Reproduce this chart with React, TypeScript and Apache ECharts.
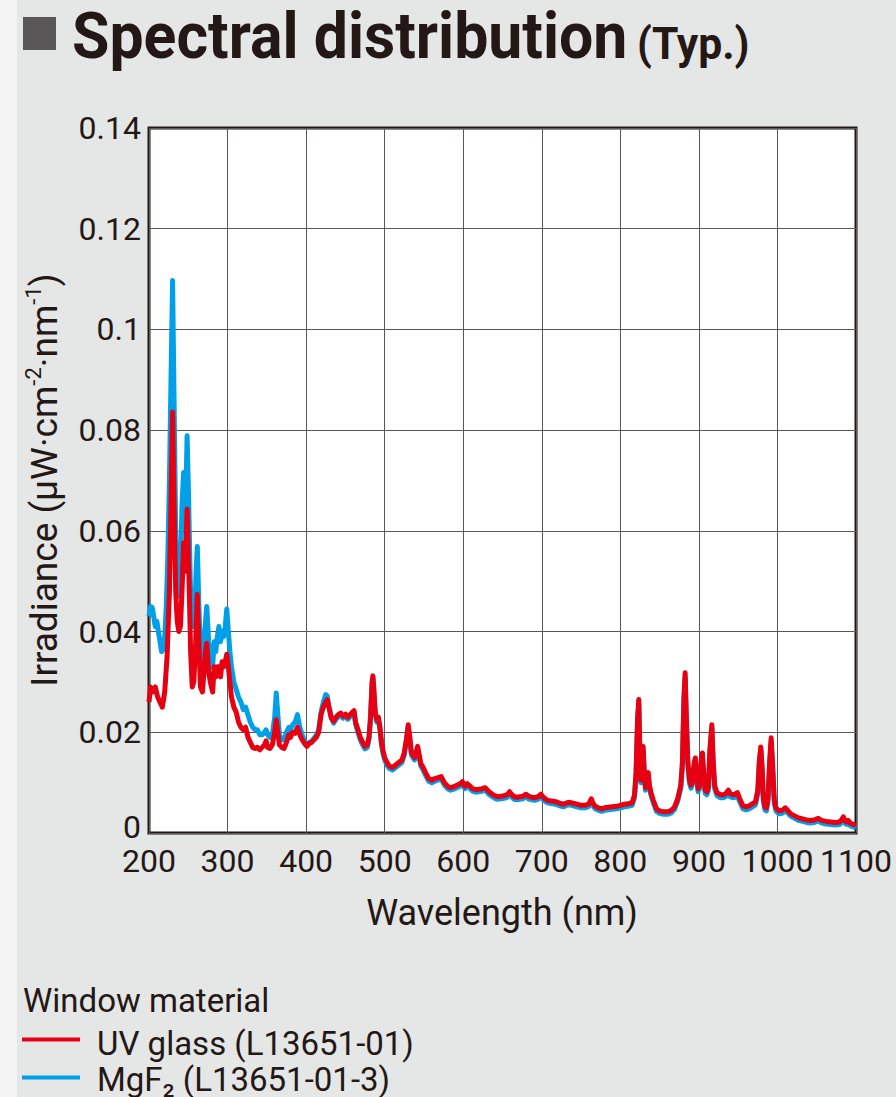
import React, { useEffect, useRef } from "react";
import * as echarts from "echarts";

// ---- Data (wavelength nm, irradiance µW·cm-2·nm-1) ----
const uvGlassUV: [number, number][] = [
  [200, 0.026], [202, 0.029], [205, 0.028], [208, 0.029], [211, 0.027], [214, 0.026], [217, 0.025],
  [220, 0.028], [223, 0.035], [226, 0.048], [228, 0.066], [230, 0.0836], [232, 0.064], [234, 0.048],
  [236, 0.042], [238, 0.040], [240, 0.041], [242, 0.048], [244, 0.0576], [246, 0.052], [248.5, 0.0643],
  [251, 0.050], [253, 0.036], [255, 0.029], [257, 0.030], [259, 0.036], [261.5, 0.0474], [263.5, 0.038],
  [265.5, 0.029], [268, 0.028], [270, 0.032], [272, 0.036], [273.5, 0.0377], [276, 0.032], [278, 0.030],
  [281, 0.028], [283, 0.033], [285, 0.031], [287, 0.033], [289, 0.033], [291, 0.031], [293, 0.034],
  [295, 0.033], [297, 0.034], [299, 0.0355], [301, 0.033], [303, 0.030], [305, 0.027], [308, 0.025],
  [311, 0.024], [314, 0.022], [317, 0.021], [320, 0.0205], [323, 0.021], [326, 0.019], [329, 0.018],
  [332, 0.017], [335, 0.0168], [338, 0.017], [341, 0.0165], [344, 0.017], [347, 0.0175], [349, 0.0183],
  [351, 0.017], [354, 0.0168], [357, 0.0175], [360, 0.020], [362, 0.0225], [364, 0.020], [366, 0.0175],
  [369, 0.017], [372, 0.0168], [375, 0.018], [378, 0.0195], [380, 0.019], [383, 0.020], [386, 0.0198],
  [389, 0.021], [392, 0.0195], [395, 0.0185], [398, 0.0178], [401, 0.0172], [404, 0.0178], [407, 0.018],
  [410, 0.0185], [413, 0.019], [416, 0.020], [419, 0.0235], [422, 0.025], [425, 0.026], [427, 0.0265],
  [429, 0.025], [432, 0.0228],
];
const uvGlassVis: [number, number][] = [
  [435, 0.0222], [438, 0.023], [441, 0.0235], [444, 0.0238], [447, 0.0232], [450, 0.0236], [453, 0.023],
  [456, 0.0235], [459, 0.024], [461, 0.0243], [463, 0.022], [466, 0.0205], [469, 0.019], [472, 0.018],
  [475, 0.0172], [478, 0.0175], [480, 0.019], [482, 0.023], [484, 0.030], [485, 0.0312], [486, 0.029],
  [488, 0.024], [490, 0.0225], [492, 0.023], [494, 0.021], [496, 0.018], [498, 0.0162], [500, 0.015],
  [503, 0.014], [506, 0.0133], [510, 0.013], [514, 0.0135], [518, 0.014], [522, 0.0145], [525, 0.016],
  [528, 0.019], [530, 0.0215], [532, 0.019], [534, 0.016], [536, 0.0155], [538, 0.015], [540, 0.016],
  [542, 0.0172], [544, 0.0155], [546, 0.0138], [549, 0.013], [552, 0.012], [556, 0.0108], [560, 0.0105],
  [564, 0.0108], [568, 0.011], [572, 0.0112], [576, 0.010], [580, 0.0093], [584, 0.009], [588, 0.0092],
  [592, 0.0095], [596, 0.0098], [599, 0.0102], [602, 0.0093], [605, 0.0098], [608, 0.0094], [612, 0.0088],
  [616, 0.0086], [620, 0.0087], [624, 0.0088], [628, 0.009], [632, 0.0083], [636, 0.0078], [640, 0.0074],
  [644, 0.0072], [648, 0.0073], [652, 0.0074], [656, 0.0076], [659, 0.0082], [662, 0.0076], [665, 0.0072],
  [668, 0.0071], [672, 0.0072], [676, 0.0073], [680, 0.0077], [683, 0.0073], [687, 0.0071], [691, 0.007],
  [695, 0.0072], [699, 0.0077], [702, 0.0071], [706, 0.0066], [710, 0.0064], [715, 0.0063], [720, 0.0061],
  [725, 0.0058], [728, 0.0057], [732, 0.006], [736, 0.0061], [740, 0.0059], [745, 0.0057], [750, 0.0055],
  [755, 0.0055], [760, 0.0058], [763, 0.0068], [765, 0.006], [768, 0.0053], [772, 0.005], [776, 0.0048],
  [780, 0.005], [785, 0.0051], [790, 0.0052], [795, 0.0053],
];
const uvGlassNIR: [number, number][] = [
  [800, 0.0055], [805, 0.0057], [810, 0.0058], [815, 0.006], [818, 0.0075], [820, 0.012], [822, 0.023],
  [823.5, 0.0265], [825, 0.015], [826, 0.0105], [828, 0.016], [829, 0.0172], [830.5, 0.012], [832, 0.009],
  [834, 0.011], [835.5, 0.012], [837, 0.0095], [839, 0.008], [842, 0.0065], [846, 0.0048], [850, 0.0044],
  [855, 0.0042], [860, 0.0042], [865, 0.0045], [869, 0.0052], [873, 0.0068], [877, 0.0095], [879, 0.014],
  [881, 0.027], [882.5, 0.0318], [884, 0.023], [886, 0.014], [888, 0.0105], [890, 0.0095], [892, 0.0105],
  [894, 0.014], [895.5, 0.0149], [897, 0.0115], [899, 0.0088], [901, 0.0095], [903, 0.0145], [904.5, 0.0159],
  [906, 0.012], [908, 0.0085], [910, 0.0082], [912, 0.009], [914, 0.0165], [916.5, 0.0215], [918, 0.015],
  [920, 0.0095], [923, 0.008], [927, 0.0076], [931, 0.0076], [934, 0.0078], [937.5, 0.0085], [940, 0.0078],
  [943, 0.0076], [946, 0.0077], [949, 0.008], [952, 0.0068], [956, 0.0054], [960, 0.0052], [964, 0.0054],
  [968, 0.0058], [972, 0.0062], [975, 0.0085], [977, 0.0145], [978.8, 0.0171], [980.5, 0.013], [982, 0.007],
  [984, 0.0052], [986, 0.005], [988, 0.007], [990, 0.014], [992, 0.0189], [994, 0.013], [996, 0.0065],
  [998, 0.005], [1002, 0.0044], [1006, 0.0045], [1010, 0.005], [1013, 0.0045], [1017, 0.0038], [1022, 0.0034],
  [1027, 0.003], [1032, 0.0028], [1037, 0.0026], [1042, 0.0025], [1047, 0.0026], [1052, 0.0029], [1056, 0.0025],
  [1062, 0.0023], [1068, 0.0022], [1074, 0.0021], [1079, 0.0022], [1082, 0.0027], [1084, 0.0032], [1086, 0.0024],
  [1088, 0.0022], [1090, 0.0025], [1093, 0.0019], [1097, 0.0017], [1100, 0.0015],
];

const mgf2UV: [number, number][] = [
  [200, 0.043], [202, 0.045], [204, 0.0448], [206, 0.043], [208, 0.041], [210, 0.042], [212, 0.040],
  [214, 0.038], [216, 0.036], [218, 0.0365], [220, 0.039], [222, 0.045], [224, 0.055], [226, 0.070],
  [228, 0.090], [230, 0.1097], [232, 0.085], [234, 0.060], [236, 0.050], [238, 0.047], [240, 0.052],
  [242, 0.065], [244, 0.0716], [246, 0.060], [248.5, 0.0789], [250.5, 0.066], [252.5, 0.050], [254.5, 0.043],
  [256.5, 0.041], [258.5, 0.045], [260, 0.052], [261.5, 0.0569], [263.5, 0.045], [265.5, 0.036], [268, 0.0335],
  [270, 0.038], [272, 0.042], [273.5, 0.045], [276, 0.038], [278, 0.034], [281, 0.033], [283, 0.038],
  [285, 0.036], [287, 0.039], [289, 0.041], [291, 0.038], [293, 0.040], [295, 0.039], [297, 0.041],
  [299, 0.0445], [301, 0.040], [303, 0.036], [305, 0.033], [308, 0.030], [311, 0.0285], [314, 0.027],
  [317, 0.026], [320, 0.0245], [323, 0.025], [326, 0.0235], [329, 0.022], [332, 0.021], [335, 0.0205],
  [338, 0.0205], [341, 0.0195], [344, 0.0195], [347, 0.020], [349, 0.0205], [351, 0.0195], [354, 0.019],
  [357, 0.0195], [360, 0.023], [362, 0.0278], [364, 0.0235], [366, 0.0195], [369, 0.0185], [372, 0.0185],
  [375, 0.020], [378, 0.021], [380, 0.0205], [383, 0.0215], [386, 0.022], [389, 0.0235], [392, 0.021],
  [395, 0.0195], [398, 0.0182], [401, 0.0175], [404, 0.018], [407, 0.0182], [410, 0.0188], [413, 0.0195],
  [416, 0.0205], [419, 0.024], [422, 0.026], [425, 0.0275], [427, 0.0272], [429, 0.025], [432, 0.0232],
];
const mgf2Vis: [number, number][] = [
  [435, 0.0218], [438, 0.0226], [441, 0.0231], [444, 0.0234], [447, 0.0228], [450, 0.0232], [453, 0.0226],
  [456, 0.0231], [459, 0.0236], [461, 0.0239], [463, 0.0216], [466, 0.020], [469, 0.0185], [472, 0.0175],
  [475, 0.0167], [478, 0.017], [480, 0.0186], [482, 0.0226], [484, 0.0296], [485, 0.0309], [486, 0.0286],
  [488, 0.0236], [490, 0.022], [492, 0.0226], [494, 0.0205], [496, 0.0175], [498, 0.0157], [500, 0.0145],
  [503, 0.0135], [506, 0.0128], [510, 0.0125], [514, 0.013], [518, 0.0135], [522, 0.014], [525, 0.0155],
  [528, 0.0185], [530, 0.021], [532, 0.0185], [534, 0.0155], [536, 0.015], [538, 0.0145], [540, 0.0155],
  [542, 0.0167], [544, 0.015], [546, 0.0133], [549, 0.0125], [552, 0.0115], [556, 0.0103], [560, 0.010],
  [564, 0.0103], [568, 0.0105], [572, 0.0107], [576, 0.0095], [580, 0.0088], [584, 0.0085], [588, 0.0087],
  [592, 0.009], [596, 0.0093], [599, 0.0097], [602, 0.0088], [605, 0.0093], [608, 0.0089], [612, 0.0083],
  [616, 0.0081], [620, 0.0082], [624, 0.0083], [628, 0.0085], [632, 0.0078], [636, 0.0073], [640, 0.0069],
  [644, 0.0067], [648, 0.0068], [652, 0.0069], [656, 0.0071], [659, 0.0077], [662, 0.0071], [665, 0.0067],
  [668, 0.0066], [672, 0.0067], [676, 0.0068], [680, 0.0072], [683, 0.0068], [687, 0.0066], [691, 0.0065],
  [695, 0.0067], [699, 0.0072], [702, 0.0066], [706, 0.0061], [710, 0.0059], [715, 0.0058], [720, 0.0056],
  [725, 0.0053], [728, 0.0052], [732, 0.0055], [736, 0.0056], [740, 0.0054], [745, 0.0052], [750, 0.005],
  [755, 0.005], [760, 0.0053], [763, 0.0063], [765, 0.0055], [768, 0.0048], [772, 0.0045], [776, 0.0043],
  [780, 0.0045], [785, 0.0046], [790, 0.0047], [795, 0.0048],
];
const mgf2NIR: [number, number][] = [
  [800, 0.005], [805, 0.0052], [810, 0.0053], [815, 0.0055], [818, 0.007], [820, 0.0113], [822, 0.0222],
  [823.5, 0.0256], [825, 0.0143], [826, 0.010], [828, 0.0153], [829, 0.0165], [830.5, 0.0115], [832, 0.0085],
  [834, 0.0105], [835.5, 0.0114], [837, 0.009], [839, 0.0075], [842, 0.006], [846, 0.0043], [850, 0.0039],
  [855, 0.0037], [860, 0.0037], [865, 0.004], [869, 0.0047], [873, 0.0063], [877, 0.0089], [879, 0.0133],
  [881, 0.0262], [882.5, 0.0308], [884, 0.0222], [886, 0.0133], [888, 0.0099], [890, 0.0089], [892, 0.0099],
  [894, 0.0133], [895.5, 0.0142], [897, 0.0109], [899, 0.0082], [901, 0.0089], [903, 0.0138], [904.5, 0.0152],
  [906, 0.0114], [908, 0.0079], [910, 0.0076], [912, 0.0084], [914, 0.0158], [916.5, 0.0207], [918, 0.0143],
  [920, 0.0089], [923, 0.0074], [927, 0.007], [931, 0.007], [934, 0.0072], [937.5, 0.0079], [940, 0.0072],
  [943, 0.007], [946, 0.0071], [949, 0.0074], [952, 0.0062], [956, 0.0048], [960, 0.0046], [964, 0.0048],
  [968, 0.0052], [972, 0.0056], [975, 0.0079], [977, 0.0138], [978.8, 0.0164], [980.5, 0.0124], [982, 0.0064],
  [984, 0.0046], [986, 0.0044], [988, 0.0064], [990, 0.0133], [992, 0.0181], [994, 0.0124], [996, 0.0059],
  [998, 0.0044], [1002, 0.0038], [1006, 0.0039], [1010, 0.0044], [1013, 0.004], [1017, 0.0033], [1022, 0.0029],
  [1027, 0.0025], [1032, 0.0023], [1037, 0.0021], [1042, 0.002], [1047, 0.0021], [1052, 0.0024], [1056, 0.002],
  [1062, 0.0018], [1068, 0.0017], [1074, 0.0016], [1079, 0.0017], [1082, 0.0022], [1084, 0.0027], [1086, 0.0019],
  [1088, 0.0017], [1090, 0.002], [1093, 0.0014], [1097, 0.0012], [1100, 0.001],
];

const seriesNames = ["UV glass (L13651-01)", "MgF₂ (L13651-01-3)"];
const titleText = "Spectral distribution";
const titleSuffix = "(Typ.)";
const xAxisTitle = "Wavelength (nm)";
const legendTitle = "Window material";

const RED = "#e60012";
const BLUE = "#00a0e9";
const INK = "#231815";
const FONT = "Roboto, 'Noto Sans', sans-serif";

export default function App() {
  const ref = useRef<HTMLDivElement>(null);
  useEffect(() => {
    if (!ref.current) return;
    const chart = echarts.init(ref.current, undefined, { renderer: "svg" });
    const uv = [...uvGlassUV, ...uvGlassVis, ...uvGlassNIR];
    const mg = [...mgf2UV, ...mgf2Vis, ...mgf2NIR];
    chart.setOption({
      animation: false,
      backgroundColor: "#e5e6e6",
      grid: {
        left: 149,
        top: 128,
        width: 707,
        height: 705,
        show: true,
        backgroundColor: "#ffffff",
        borderColor: INK,
        borderWidth: 3,
        z: 0,
      },
      xAxis: {
        type: "value",
        min: 200,
        max: 1100,
        interval: 100,
        axisLine: { show: false },
        axisTick: { show: false },
        axisLabel: {
          fontSize: 32,
          lineHeight: 26,
          color: INK,
          fontFamily: FONT,
          margin: 15,
          formatter: (v: number) => String(v),
        },
        splitLine: { show: true, lineStyle: { color: "#595757", width: 1 } },
      },
      yAxis: {
        type: "value",
        min: 0,
        max: 0.14,
        interval: 0.02,
        axisLine: { show: false },
        axisTick: { show: false },
        axisLabel: {
          fontSize: 32,
          lineHeight: 26,
          color: INK,
          fontFamily: FONT,
          margin: 8,
          formatter: (v: number) => (v === 0 ? "{z|0}" : String(parseFloat(v.toFixed(2)))),
          rich: {
            z: { fontSize: 32, lineHeight: 26, fontFamily: FONT, color: INK, padding: [0, 0, 12, 0] },
          },
        },
        splitLine: { show: true, lineStyle: { color: "#595757", width: 1 } },
      },
      series: [
        {
          name: seriesNames[1],
          type: "line",
          data: mg,
          showSymbol: false,
          symbol: "none",
          lineStyle: { color: BLUE, width: 5, join: "round" },
          z: 3,
        },
        {
          name: seriesNames[0],
          type: "line",
          data: uv,
          showSymbol: false,
          symbol: "none",
          lineStyle: { color: RED, width: 5, join: "round" },
          z: 4,
        },
      ],
      graphic: [
        { type: "rect", shape: { x: 0, y: 0, width: 17, height: 1097 }, style: { fill: "#f3f3f3" }, z: 0 },
        { type: "rect", shape: { x: 23, y: 17, width: 33, height: 33 }, style: { fill: "#595757" } },
        {
          type: "text",
          x: 72,
          y: 36,
          scaleX: 0.95,
          style: {
            text: titleText,
            font: `bold 64px ${FONT}`,
            lineHeight: 64,
            fill: INK,
            textAlign: "left",
            textVerticalAlign: "middle",
          },
        },
        {
          type: "text",
          x: 637,
          y: 44,
          scaleX: 0.97,
          style: {
            text: titleSuffix,
            font: `bold 44px ${FONT}`,
            lineHeight: 44,
            fill: INK,
            textAlign: "left",
            textVerticalAlign: "middle",
          },
        },
        {
          type: "text",
          x: 44,
          y: 480,
          rotation: Math.PI / 2,
          style: {
            text: "{a|Irradiance (μW·cm}{s|-2}{a|·nm}{s|-1}{a|)}",
            textAlign: "center",
            textVerticalAlign: "middle",
            fill: INK,
            rich: {
              a: { fontSize: 37, fontFamily: FONT, color: INK, lineHeight: 44 },
              s: { fontSize: 22, fontFamily: FONT, color: INK, verticalAlign: "top", lineHeight: 44 },
            },
          },
        },
        {
          type: "text",
          x: 502,
          y: 913,
          style: {
            text: xAxisTitle,
            font: `36px ${FONT}`,
            fill: INK,
            textAlign: "center",
            textVerticalAlign: "middle",
          },
        },
        {
          type: "text",
          x: 23,
          y: 1000,
          style: { text: legendTitle, font: `33px ${FONT}`, fill: INK, textAlign: "left", textVerticalAlign: "middle" },
        },
        { type: "line", shape: { x1: 22, y1: 1039.5, x2: 80, y2: 1039.5 }, style: { stroke: RED, lineWidth: 4 } },
        {
          type: "text",
          x: 97,
          y: 1043,
          style: { text: seriesNames[0], font: `33px ${FONT}`, fill: INK, textAlign: "left", textVerticalAlign: "middle" },
        },
        { type: "line", shape: { x1: 22, y1: 1077.5, x2: 80, y2: 1077.5 }, style: { stroke: BLUE, lineWidth: 4 } },
        {
          type: "text",
          x: 97,
          y: 1079,
          style: { text: seriesNames[1], font: `33px ${FONT}`, fill: INK, textAlign: "left", textVerticalAlign: "middle" },
        },
      ],
    });
    return () => chart.dispose();
  }, []);
  return (
    <div
      ref={ref}
      style={{ position: "absolute", left: 0, top: 0, width: 896, height: 1097 }}
    />
  );
}
